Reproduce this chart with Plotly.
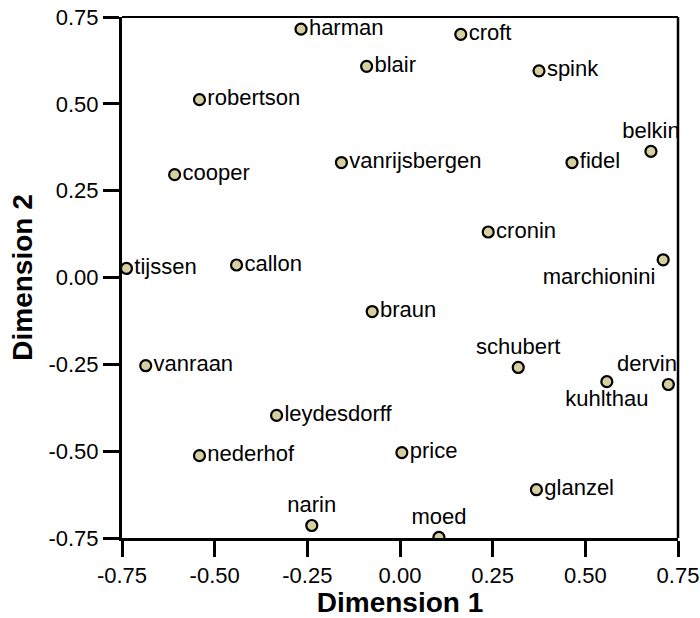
import plotly.graph_objects as go

names = ["harman", "croft", "blair", "spink", "robertson", "belkin", "cooper",
         "vanrijsbergen", "fidel", "cronin", "tijssen", "callon", "marchionini",
         "braun", "schubert", "dervin", "vanraan", "kuhlthau", "leydesdorff",
         "nederhof", "price", "glanzel", "narin", "moed"]
dim1 = [-0.267, 0.164, -0.090, 0.375, -0.541, 0.677, -0.608,
        -0.158, 0.464, 0.238, -0.738, -0.441, 0.710,
        -0.075, 0.319, 0.724, -0.686, 0.558, -0.333,
        -0.541, 0.005, 0.368, -0.238, 0.105]
dim2 = [0.715, 0.700, 0.608, 0.595, 0.512, 0.363, 0.296,
        0.331, 0.331, 0.131, 0.026, 0.036, 0.051,
        -0.098, -0.259, -0.308, -0.254, -0.300, -0.397,
        -0.513, -0.504, -0.611, -0.714, -0.748]
label_pos = ["middle right", "middle right", "middle right", "middle right", "middle right",
             "top center", "middle right", "middle right", "middle right", "middle right",
             "middle right", "middle right", "bottom left", "middle right", "top center",
             "custom", "middle right", "bottom center", "middle right", "middle right",
             "middle right", "middle right", "top center", "top center"]
tick_vals = [-0.75, -0.50, -0.25, 0.00, 0.25, 0.50, 0.75]
tick_text = ["-0.75", "-0.50", "-0.25", "0.00", "0.25", "0.50", "0.75"]

FONT = "Liberation Sans, Arial, sans-serif"
LABEL_SIZE = 22

trace_text = [n if p != "custom" else "" for n, p in zip(names, label_pos)]
trace_pos = [p if p != "custom" else "middle right" for p in label_pos]

fig = go.Figure()
fig.add_trace(go.Scatter(
    x=dim1, y=dim2, mode="markers+text", text=trace_text, textposition=trace_pos,
    textfont=dict(family=FONT, size=LABEL_SIZE, color="black"),
    marker=dict(size=11, color="#d6cfa0", line=dict(color="black", width=2.2)),
    cliponaxis=True, hovertext=names, hoverinfo="text", showlegend=False,
))

annotations = []
for n, p, xv, yv in zip(names, label_pos, dim1, dim2):
    if p == "custom":
        annotations.append(dict(
            x=xv, y=yv, xref="x", yref="y", text=n, showarrow=False,
            xanchor="right", yanchor="bottom", xshift=11, yshift=6,
            font=dict(family=FONT, size=LABEL_SIZE, color="black"),
        ))

axis_common = dict(
    range=[-0.75, 0.75], tickmode="array", tickvals=tick_vals, ticktext=tick_text,
    ticks="outside", ticklen=16, tickwidth=3, tickcolor="black",
    showline=True, linewidth=3, linecolor="black", mirror=False,
    showgrid=False, zeroline=False, automargin=False,
    tickfont=dict(family=FONT, size=22, color="black"),
)

fig.update_layout(
    width=700, height=618,
    margin=dict(l=122, r=22, t=17, b=80, autoexpand=False),
    paper_bgcolor="white", plot_bgcolor="white",
    xaxis=dict(**axis_common,
               title=dict(text="<b>Dimension 1</b>", standoff=6,
                          font=dict(family=FONT, size=28, color="black"))),
    yaxis=dict(**axis_common,
               title=dict(text="<b>Dimension 2</b>", standoff=8,
                          font=dict(family=FONT, size=28, color="black"))),
    annotations=annotations,
    shapes=[
        dict(type="line", xref="paper", yref="paper", x0=0, x1=1, y0=1, y1=1,
             line=dict(color="black", width=2)),
        dict(type="line", xref="paper", yref="paper", x0=1, x1=1, y0=0, y1=1,
             line=dict(color="black", width=2.5)),
    ],
)

fig.write_html("out.html")
